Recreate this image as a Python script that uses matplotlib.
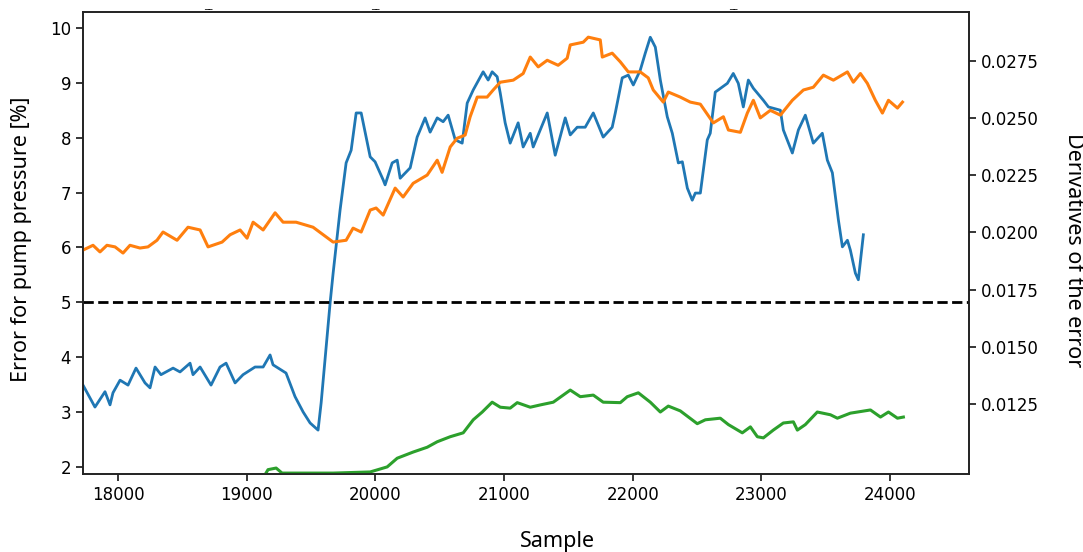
import numpy as np
import matplotlib.pyplot as plt
from matplotlib.ticker import FormatStrFormatter

# error for pump pressure [%] (left axis)
err_x = [17728, 17821, 17899, 17938, 17961, 18016, 18078, 18140, 18210, 18249,
         18288, 18334, 18428, 18482, 18560, 18583, 18638, 18723, 18793, 18840,
         18910, 18972, 19065, 19128, 19182, 19205, 19306, 19376, 19439, 19493,
         19555, 19579, 19649, 19672, 19726, 19773, 19812, 19851, 19890, 19960,
         19998, 20061, 20076, 20131, 20170, 20193, 20271, 20325, 20387, 20426,
         20481, 20527, 20566, 20621, 20675, 20714, 20761, 20838, 20877, 20908,
         20947, 20971, 21009, 21048, 21110, 21149, 21204, 21227, 21336, 21398,
         21476, 21515, 21569, 21631, 21694, 21771, 21841, 21865, 21919, 21966,
         22005, 22059, 22098, 22137, 22176, 22215, 22269, 22308, 22355, 22386,
         22425, 22463, 22487, 22526, 22580, 22603, 22642, 22736, 22782, 22821,
         22860, 22899, 22938, 23016, 23055, 23148, 23171, 23241, 23288, 23342,
         23404, 23474, 23513, 23552, 23599, 23630, 23669, 23692, 23731, 23754,
         23793]
err_y = [3.49, 3.09, 3.37, 3.13, 3.35, 3.58, 3.49, 3.80, 3.53, 3.44,
         3.82, 3.68, 3.80, 3.73, 3.89, 3.68, 3.82, 3.49, 3.82, 3.89,
         3.53, 3.68, 3.82, 3.82, 4.04, 3.86, 3.71, 3.28, 3.00, 2.80,
         2.67, 3.17, 5.00, 5.53, 6.68, 7.54, 7.77, 8.45, 8.45, 7.65,
         7.56, 7.23, 7.14, 7.54, 7.59, 7.26, 7.45, 8.01, 8.36, 8.10,
         8.36, 8.29, 8.41, 7.96, 7.90, 8.63, 8.87, 9.20, 9.05, 9.20,
         9.11, 8.81, 8.27, 7.90, 8.27, 7.83, 8.08, 7.83, 8.45, 7.68,
         8.36, 8.05, 8.19, 8.19, 8.45, 8.01, 8.19, 8.45, 9.09, 9.14,
         8.96, 9.23, 9.54, 9.83, 9.65, 9.05, 8.38, 8.08, 7.54, 7.56,
         7.08, 6.86, 6.99, 6.99, 7.96, 8.08, 8.83, 8.99, 9.17, 8.99,
         8.56, 9.05, 8.90, 8.68, 8.56, 8.50, 8.14, 7.72, 8.14, 8.41,
         7.90, 8.08, 7.59, 7.36, 6.50, 6.01, 6.13, 5.95, 5.53, 5.41,
         6.23]

# derivatives of the error (right axis)
d1_x = [17728, 17806, 17860, 17914, 17977, 18039, 18093, 18171, 18233, 18303,
        18350, 18459, 18544, 18638, 18700, 18809, 18871, 18949, 19003, 19050,
        19128, 19221, 19283, 19384, 19516, 19672, 19773, 19827, 19890, 19960,
        20006, 20061, 20154, 20216, 20294, 20403, 20481, 20519, 20582, 20636,
        20698, 20737, 20792, 20869, 20916, 20971, 21072, 21149, 21204, 21266,
        21336, 21421, 21491, 21515, 21616, 21655, 21748, 21764, 21841, 21904,
        21966, 22059, 22121, 22160, 22238, 22277, 22370, 22448, 22526, 22627,
        22705, 22744, 22837, 22891, 22938, 22992, 23070, 23148, 23241, 23327,
        23404, 23482, 23560, 23669, 23715, 23770, 23824, 23886, 23941, 23988,
        24058, 24097]
d1_y = [0.01923, 0.01944, 0.01915, 0.01944, 0.01937, 0.01910, 0.01944, 0.01932, 0.01937, 0.01966,
        0.02002, 0.01966, 0.02023, 0.02011, 0.01937, 0.01958, 0.01990, 0.02011, 0.01975, 0.02045,
        0.02011, 0.02086, 0.02045, 0.02045, 0.02023, 0.01958, 0.01966, 0.02019, 0.02002, 0.02098,
        0.02107, 0.02076, 0.02194, 0.02155, 0.02215, 0.02251, 0.02316, 0.02263, 0.02374, 0.02412,
        0.02426, 0.02506, 0.02592, 0.02592, 0.02623, 0.02657, 0.02666, 0.02695, 0.02767, 0.02724,
        0.02753, 0.02731, 0.02762, 0.02820, 0.02832, 0.02854, 0.02842, 0.02767, 0.02784, 0.02746,
        0.02702, 0.02702, 0.02676, 0.02623, 0.02570, 0.02614, 0.02592, 0.02570, 0.02561, 0.02479,
        0.02506, 0.02448, 0.02438, 0.02522, 0.02578, 0.02501, 0.02534, 0.02513, 0.02578, 0.02623,
        0.02635, 0.02688, 0.02666, 0.02702, 0.02657, 0.02695, 0.02652, 0.02578, 0.02522, 0.02578,
        0.02544, 0.02570]

d2_x = [19100, 19166, 19229, 19275, 19415, 19672, 19960, 20092, 20170, 20294,
        20403, 20481, 20582, 20683, 20761, 20831, 20908, 20971, 21048, 21103,
        21204, 21282, 21383, 21515, 21593, 21694, 21771, 21904, 21958, 22044,
        22137, 22215, 22277, 22370, 22502, 22565, 22681, 22744, 22852, 22915,
        22969, 23016, 23093, 23171, 23249, 23280, 23342, 23435, 23537, 23591,
        23692, 23848, 23926, 23988, 24058, 24104]
d2_y = [0.00900, 0.00963, 0.00970, 0.00948, 0.00948, 0.00948, 0.00953, 0.00975, 0.01013, 0.01040,
        0.01061, 0.01085, 0.01107, 0.01124, 0.01181, 0.01215, 0.01258, 0.01236, 0.01232, 0.01256,
        0.01236, 0.01246, 0.01258, 0.01311, 0.01282, 0.01289, 0.01258, 0.01256, 0.01282, 0.01299,
        0.01258, 0.01215, 0.01241, 0.01220, 0.01164, 0.01181, 0.01188, 0.01160, 0.01124, 0.01150,
        0.01107, 0.01102, 0.01136, 0.01167, 0.01172, 0.01136, 0.01160, 0.01215, 0.01203, 0.01188,
        0.01210, 0.01224, 0.01193, 0.01215, 0.01188, 0.01193]

threshold = 5

left_ticks = [2, 3, 4, 5, 6, 7, 8, 9, 10]
right_ticks = [0.0125, 0.0150, 0.0175, 0.0200, 0.0225, 0.0250, 0.0275]
x_ticks = [18000, 19000, 20000, 21000, 22000, 23000, 24000]

label_font = 'Noto Sans'

fig = plt.figure(figsize=(10.83, 5.52), dpi=100)
ax = fig.add_axes([83/1083, 78/552, 886/1083, 462/552])
ax2 = ax.twinx()

ax.plot(err_x, err_y, color='tab:blue', lw=2)
ax.axhline(threshold, color='black', ls='--', lw=2)
ax2.plot(d1_x, d1_y, color='tab:orange', lw=2.2)
ax2.plot(d2_x, d2_y, color='tab:green', lw=2.2)

ax.set_xlim(17728, 24614)
ax.set_ylim(1.87, 10.29)
ax2.set_ylim(0.00944, 0.02964)
ax.set_xticks(x_ticks)
ax.set_yticks(left_ticks)
ax2.set_yticks(right_ticks)
ax2.yaxis.set_major_formatter(FormatStrFormatter('%.4f'))

for a in (ax, ax2):
    a.tick_params(labelsize=12, width=1.1, length=5)
    for s in a.spines.values():
        s.set_linewidth(1.2)
        s.set_color('#222222')

fig.text(557/1083, 1 - 541/552, 'Sample', ha='center', va='center',
         fontsize=15.5, family=label_font)
fig.text(22/1083, 1 - 239/552, 'Error for pump pressure [%]', ha='center', va='center',
         rotation=90, fontsize=15.5, family=label_font)
fig.text(1073/1083, 1 - 250/552, 'Derivatives of the error', ha='center', va='center',
         rotation=270, fontsize=15.5, family=label_font)

# cut-off title remnants at the very top
for xp in (208, 375, 733):
    fig.text(xp/1083, 1 - 1/552, '__', ha='center', va='top', fontsize=6)

fig.savefig('out.png', dpi=100)
